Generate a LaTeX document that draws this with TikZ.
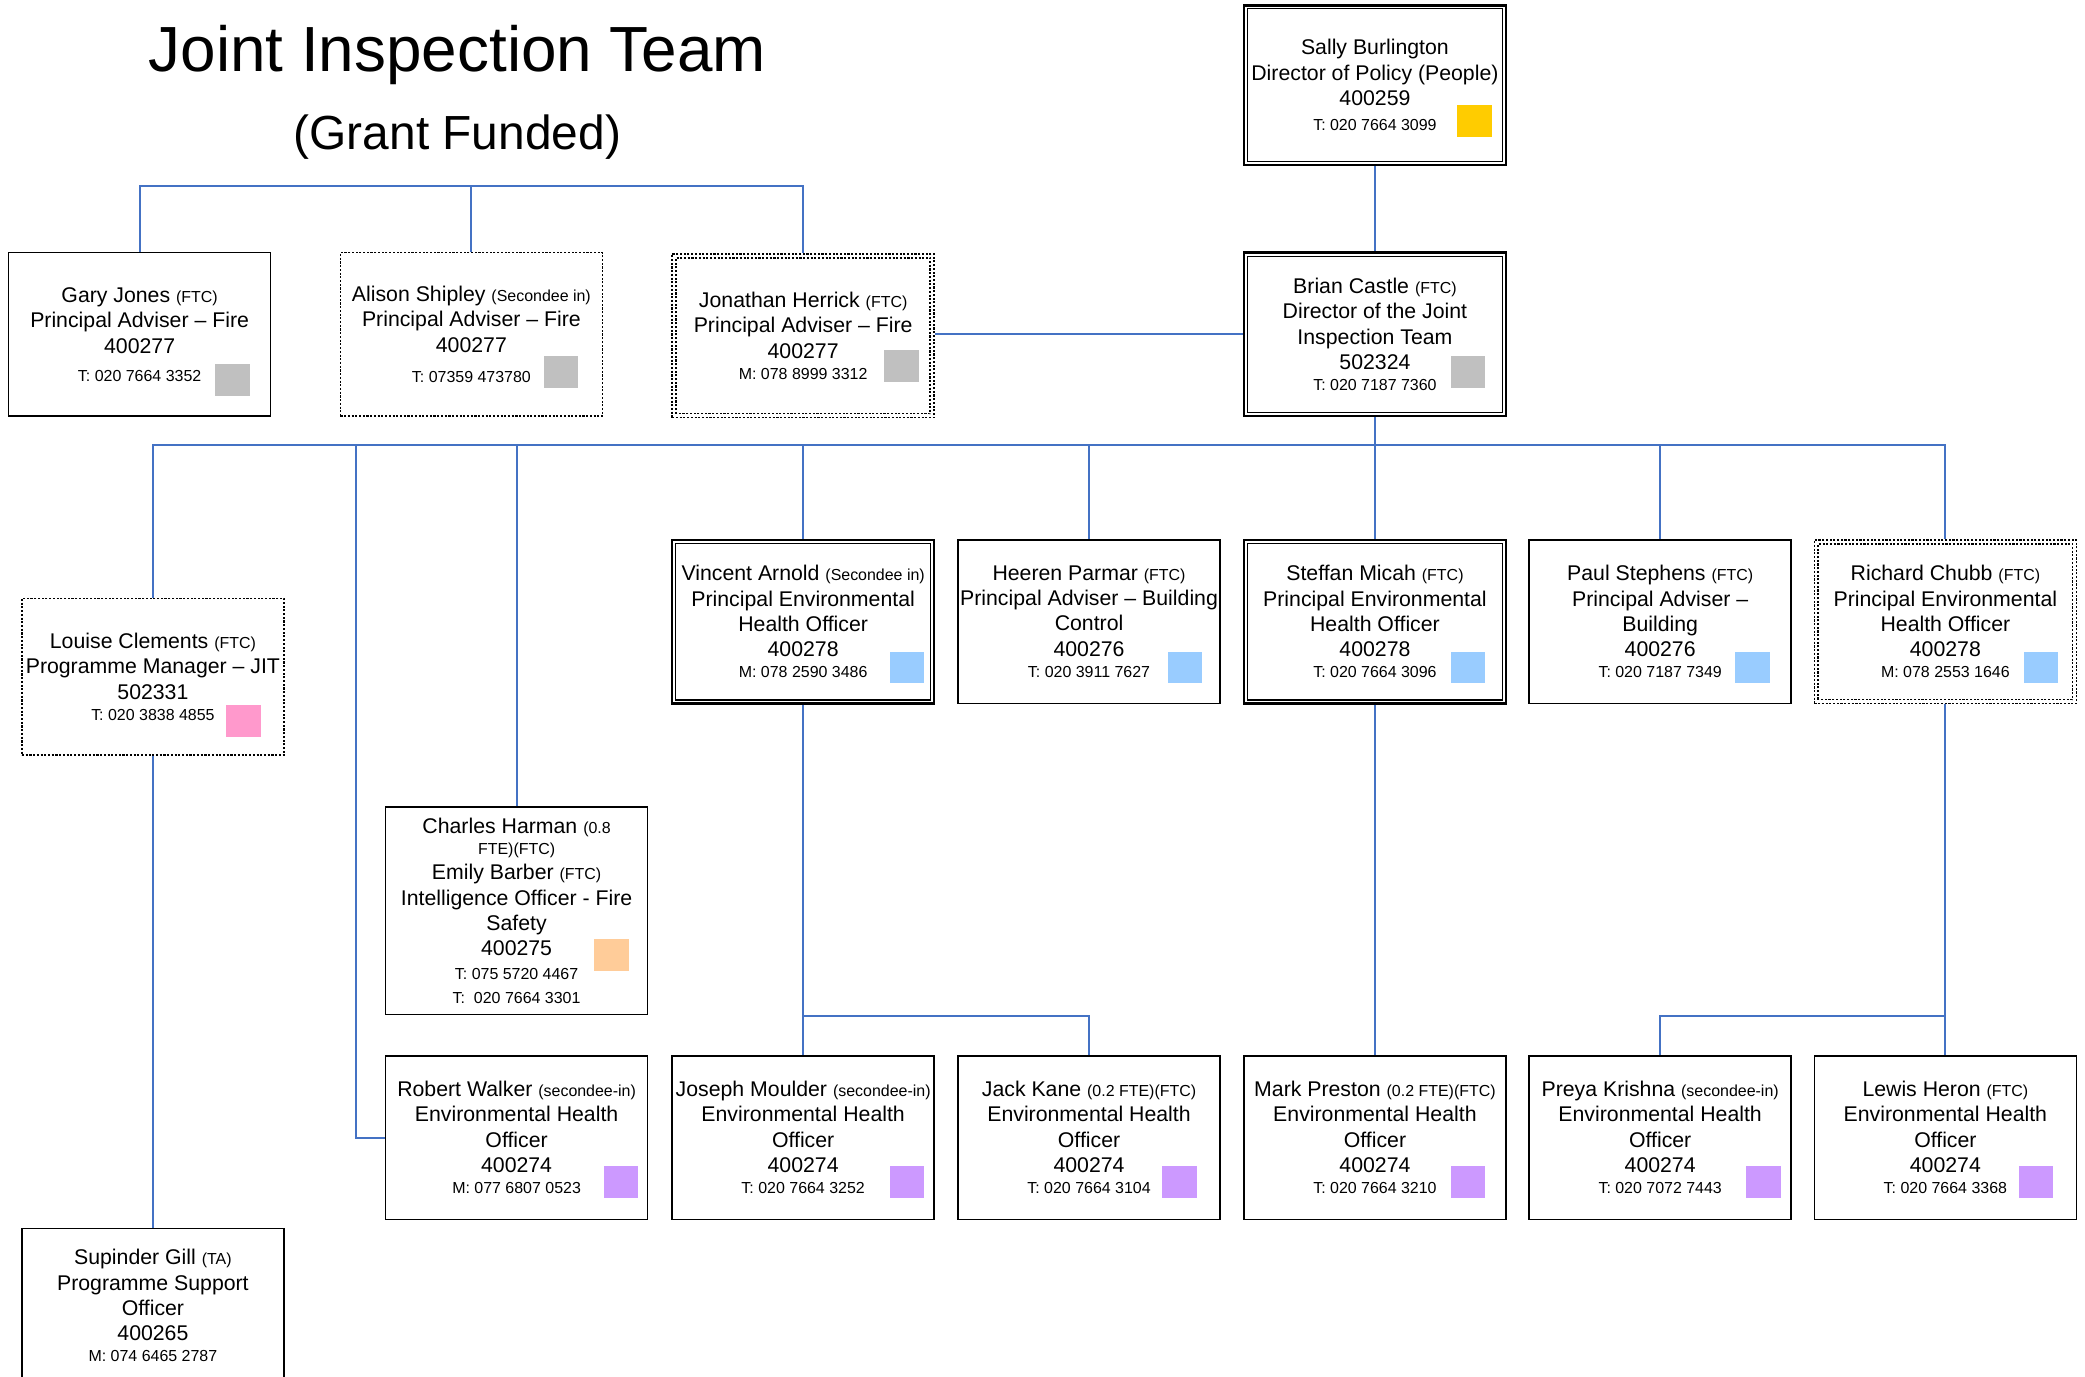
\documentclass[tikz,border=0pt]{standalone}
\usepackage{fontspec}
\setmainfont{Liberation Sans}
\usetikzlibrary{calc}
\definecolor{conncol}{HTML}{4472C4}
\definecolor{sqgray}{HTML}{C0C0C0}
\definecolor{sqyellow}{HTML}{FFCC00}
\definecolor{sqpink}{HTML}{FF99CC}
\definecolor{sqorange}{HTML}{FFCC99}
\definecolor{sqblue}{HTML}{99CCFF}
\definecolor{sqpurple}{HTML}{CC99FF}
\newcommand\sm{\fontsize{12}{14}\selectfont}
\newcommand\innerrect[2][]{\draw[line width=0.8pt,#1] ([shift={(3.5pt,3.5pt)}]#2.south west) rectangle ([shift={(-3.5pt,-3.5pt)}]#2.north east);}
\tikzset{
  box/.style={draw=black, line width=1.2pt, minimum width=197pt, minimum height=123pt, inner sep=0pt, align=center, font=\fontsize{16}{19}\selectfont},
  dotbox/.style={box, dash pattern=on 1.6pt off 1.2pt},
  dblbox/.style={box, line width=1.8pt},
  ddotbox/.style={box, line width=1.2pt, dash pattern=on 1.6pt off 1.2pt},
  boxtext/.style={inner sep=0pt, align=center, font=\fontsize{16}{19}\selectfont},
  sq/.style={minimum width=26pt, minimum height=24pt, inner sep=0pt, draw=none},
  conn/.style={draw=conncol, line width=1.5pt},
  title/.style={inner sep=0pt}
}
\begin{document}
\begin{tikzpicture}[x=1pt,y=-1pt]
\useasboundingbox (0,0) rectangle (1568,1035);
\clip (0,0) rectangle (1568,1035);

% titles
\node[title, font=\fontsize{48}{56}\selectfont] (t1) at (344,41) {Joint Inspection Team};
\node[title, font=\fontsize{36}{42}\selectfont] (t2) at (344,103) {(Grant Funded)};

% top
\node[dblbox, minimum height=120pt] (sally) at (1034,64) {Sally Burlington\\Director of Policy (People)\\400259\\{\sm T: 020 7664 3099}};
\innerrect{sally}
\node[dblbox] (brian) at (1034,251.5) {Brian Castle {\sm (FTC)}\\Director of the Joint\\Inspection Team\\502324\\[-3pt]{\sm T: 020 7187 7360}};
\innerrect{brian}

\node[box] (gary) at (105,251.5) {Gary Jones {\sm (FTC)}\\Principal Adviser – Fire\\400277\\[2pt]{\sm T: 020 7664 3352}};
\node[dotbox] (alison) at (354.5,251.5) {Alison Shipley {\sm (Secondee in)}\\Principal Adviser – Fire\\400277\\[4pt]{\sm T: 07359 473780}};
\node[ddotbox] (jon) at (604,252.5) {Jonathan Herrick {\sm (FTC)}\\Principal Adviser – Fire\\400277\\[-3pt]{\sm M: 078 8999 3312}};
\innerrect[dash pattern=on 1.6pt off 1.2pt, line width=1.2pt]{jon}

% middle row
\node[dotbox, minimum height=118pt] (louise) at (115,509) {Louise Clements {\sm (FTC)}\\Programme Manager – JIT\\502331\\[-3pt]{\sm T: 020 3838 4855}};
\node[box, minimum height=156pt] (charles) at (388.5,685) {Charles Harman {\sm (0.8}\\[-3pt]{\sm FTE)(FTC)}\\Emily Barber {\sm (FTC)}\\Intelligence Officer - Fire\\Safety\\400275\\[-1pt]{\sm T: 075 5720 4467}\\[-1pt]{\sm T:\ \ 020 7664 3301}};

\node[dblbox] (vincent) at (604,467.5) {Vincent Arnold {\sm (Secondee in)}\\Principal Environmental\\Health Officer\\400278\\[-3pt]{\sm M: 078 2590 3486}};
\innerrect{vincent}
\node[box] (heeren) at (819,467.5) {Heeren Parmar {\sm (FTC)}\\Principal Adviser – Building\\Control\\400276\\[-3pt]{\sm T: 020 3911 7627}};
\node[dblbox] (steffan) at (1034,467.5) {Steffan Micah {\sm (FTC)}\\Principal Environmental\\Health Officer\\400278\\[-3pt]{\sm T: 020 7664 3096}};
\innerrect{steffan}
\node[box] (paul) at (1248.5,467.5) {Paul Stephens {\sm (FTC)}\\Principal Adviser –\\Building\\400276\\[-3pt]{\sm T: 020 7187 7349}};
\node[ddotbox] (richard) at (1463,467.5) {Richard Chubb {\sm (FTC)}\\Principal Environmental\\Health Officer\\400278\\[-3pt]{\sm M: 078 2553 1646}};
\innerrect[dash pattern=on 1.6pt off 1.2pt, line width=1.2pt]{richard}

% bottom row
\node[box] (robert) at (388.5,855.5) {Robert Walker {\sm (secondee-in)}\\Environmental Health\\Officer\\400274\\[-3pt]{\sm M: 077 6807 0523}};
\node[box] (joseph) at (604,855.5) {Joseph Moulder {\sm (secondee-in)}\\Environmental Health\\Officer\\400274\\[-3pt]{\sm T: 020 7664 3252}};
\node[box] (jack) at (819,855.5) {Jack Kane {\sm (0.2 FTE)(FTC)}\\Environmental Health\\Officer\\400274\\[-3pt]{\sm T: 020 7664 3104}};
\node[box] (mark) at (1034,855.5) {Mark Preston {\sm (0.2 FTE)(FTC)}\\Environmental Health\\Officer\\400274\\[-3pt]{\sm T: 020 7664 3210}};
\node[box] (preya) at (1248.5,855.5) {Preya Krishna {\sm (secondee-in)}\\Environmental Health\\Officer\\400274\\[-3pt]{\sm T: 020 7072 7443}};
\node[box] (lewis) at (1463,855.5) {Lewis Heron {\sm (FTC)}\\Environmental Health\\Officer\\400274\\[-3pt]{\sm T: 020 7664 3368}};

\node[box] (supinder) at (115,985.5) {};
\node[boxtext] (supindertext) at (115,982) {Supinder Gill {\sm (TA)}\\Programme Support\\Officer\\400265\\[-3pt]{\sm M: 074 6465 2787}};

% colour squares
\node[sq, fill=sqyellow] (sqsally) at (1109,91) {};
\node[sq, fill=sqgray] (sqbrian) at (1104,280) {};
\node[sq, fill=sqgray] (sqgary) at (175,286) {};
\node[sq, fill=sqgray] (sqalison) at (422,280) {};
\node[sq, fill=sqgray] (sqjon) at (678,275) {};
\node[sq, fill=sqpink] (sqlouise) at (183,542) {};
\node[sq, fill=sqorange] (sqcharles) at (460,718) {};
\node[sq, fill=sqblue] (sqvincent) at (682,502) {};
\node[sq, fill=sqblue] (sqheeren) at (891,502) {};
\node[sq, fill=sqblue] (sqsteffan) at (1104,502) {};
\node[sq, fill=sqblue] (sqpaul) at (1318,502) {};
\node[sq, fill=sqblue] (sqrichard) at (1535,502) {};
\node[sq, fill=sqpurple] (sqrobert) at (467,889) {};
\node[sq, fill=sqpurple] (sqjoseph) at (682,889) {};
\node[sq, fill=sqpurple] (sqjack) at (887,889) {};
\node[sq, fill=sqpurple] (sqmark) at (1104,889) {};
\node[sq, fill=sqpurple] (sqpreya) at (1326,889) {};
\node[sq, fill=sqpurple] (sqlewis) at (1531,889) {};

% connectors
\coordinate (topbus) at (0,140);
\coordinate (bus) at (0,335);
\coordinate (lowbus) at (0,764);
\coordinate (rwx) at (268,335);

\draw[conn] (gary.north) |- (jon.north |- topbus) -- (jon.north);
\draw[conn] (alison.north) -- (alison.north |- topbus);
\draw[conn] (jon.east |- brian.west) -- (brian.west);
\draw[conn] (sally.south) -- (brian.north);
\draw[conn] (brian.south) -- (brian.south |- bus);
\draw[conn] (louise.north) |- (richard.north |- bus) -- (richard.north);
\draw[conn] (charles.north) -- (charles.north |- bus);
\draw[conn] (vincent.north) -- (vincent.north |- bus);
\draw[conn] (heeren.north) -- (heeren.north |- bus);
\draw[conn] (steffan.north) -- (steffan.north |- bus);
\draw[conn] (paul.north) -- (paul.north |- bus);
\draw[conn] (robert.west) -| (rwx);
\draw[conn] (louise.south) -- (supinder.north);
\draw[conn] (vincent.south) -- (joseph.north);
\draw[conn] (jack.north) |- (joseph.north |- lowbus);
\draw[conn] (steffan.south) -- (mark.north);
\draw[conn] (richard.south) -- (lewis.north);
\draw[conn] (preya.north) |- (lewis.north |- lowbus);
\end{tikzpicture}
\end{document}
